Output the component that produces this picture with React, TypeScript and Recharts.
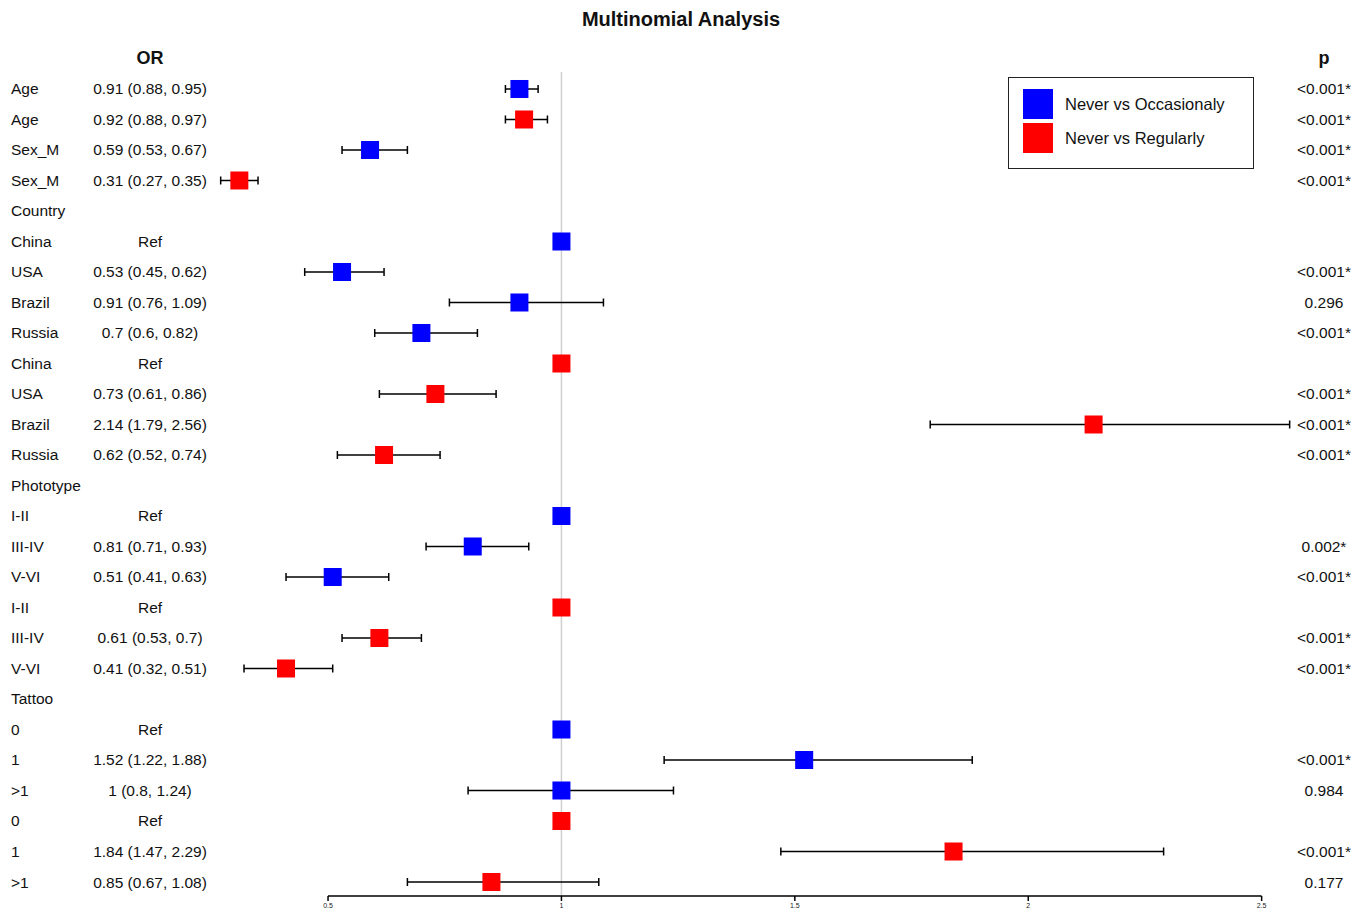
import React from 'react';
import {
  ComposedChart,
  Scatter,
  XAxis,
  YAxis,
  ReferenceLine,
  ErrorBar,
} from 'recharts';

const rowLabels = ['Age', 'Age', 'Sex_M', 'Sex_M', 'Country', 'China', 'USA', 'Brazil', 'Russia', 'China', 'USA', 'Brazil', 'Russia', 'Phototype', 'I-II', 'III-IV', 'V-VI', 'I-II', 'III-IV', 'V-VI', 'Tattoo', '0', '1', '>1', '0', '1', '>1'];
const orLabels = ['0.91 (0.88, 0.95)', '0.92 (0.88, 0.97)', '0.59 (0.53, 0.67)', '0.31 (0.27, 0.35)', '', 'Ref', '0.53 (0.45, 0.62)', '0.91 (0.76, 1.09)', '0.7 (0.6, 0.82)', 'Ref', '0.73 (0.61, 0.86)', '2.14 (1.79, 2.56)', '0.62 (0.52, 0.74)', '', 'Ref', '0.81 (0.71, 0.93)', '0.51 (0.41, 0.63)', 'Ref', '0.61 (0.53, 0.7)', '0.41 (0.32, 0.51)', '', 'Ref', '1.52 (1.22, 1.88)', '1 (0.8, 1.24)', 'Ref', '1.84 (1.47, 2.29)', '0.85 (0.67, 1.08)'];
const pLabels = ['<0.001*', '<0.001*', '<0.001*', '<0.001*', '', '', '<0.001*', '0.296', '<0.001*', '', '<0.001*', '<0.001*', '<0.001*', '', '', '0.002*', '<0.001*', '', '<0.001*', '<0.001*', '', '', '<0.001*', '0.984', '', '<0.001*', '0.177'];
const estimates: (number | null)[] = [0.91, 0.92, 0.59, 0.31, null, 1, 0.53, 0.91, 0.7, 1, 0.73, 2.14, 0.62, null, 1, 0.81, 0.51, 1, 0.61, 0.41, null, 1, 1.52, 1, 1, 1.84, 0.85];
const lowers: (number | null)[] = [0.88, 0.88, 0.53, 0.27, null, null, 0.45, 0.76, 0.6, null, 0.61, 1.79, 0.52, null, null, 0.71, 0.41, null, 0.53, 0.32, null, null, 1.22, 0.8, null, 1.47, 0.67];
const uppers: (number | null)[] = [0.95, 0.97, 0.67, 0.35, null, null, 0.62, 1.09, 0.82, null, 0.86, 2.56, 0.74, null, null, 0.93, 0.63, null, 0.7, 0.51, null, null, 1.88, 1.24, null, 2.29, 1.08];
const groups: (string | null)[] = ['occ', 'reg', 'occ', 'reg', null, 'occ', 'occ', 'occ', 'occ', 'reg', 'reg', 'reg', 'reg', null, 'occ', 'occ', 'occ', 'reg', 'reg', 'reg', null, 'occ', 'occ', 'occ', 'reg', 'reg', 'reg'];
const xTicks = [0.5, 1, 1.5, 2, 2.5];
const seriesNames = { occ: 'Never vs Occasionaly', reg: 'Never vs Regularly' };
const seriesColors: Record<string, string> = { occ: '#0000FF', reg: '#FF0000' };

const FONT = '"Liberation Sans", Arial, sans-serif';
const Y_DOMAIN: [number, number] = [-0.557, 26.459];

const labelData = rowLabels.map((label, i) => ({ x: 1, y: i, label, or: orLabels[i], p: pLabels[i] }));

const ciData = (g: string) =>
  estimates
    .map((est, i) => ({ est, i }))
    .filter(({ est, i }) => est != null && groups[i] === g && lowers[i] != null)
    .map(({ est, i }) => ({ x: est as number, y: i, err: [(est as number) - (lowers[i] as number), (uppers[i] as number) - (est as number)] }));

const refData = estimates
  .map((est, i) => ({ est, i }))
  .filter(({ est, i }) => est != null && lowers[i] == null)
  .map(({ est, i }) => ({ x: est as number, y: i, g: groups[i] as string }));

const occData = ciData('occ');
const regData = ciData('reg');

const SQ = 18;

const squareShape = (color?: string) => (props: any) => {
  const { cx, cy, payload } = props;
  const fill = color || seriesColors[payload.g];
  return <rect x={cx - SQ / 2} y={cy - SQ / 2} width={SQ} height={SQ} fill={fill} />;
};

const LabelShape = (props: any) => {
  const { cy, payload } = props;
  return (
    <g fontFamily={FONT} fontSize={15.5} fill="#111">
      <text x={11} y={cy} dominantBaseline="central" textAnchor="start">{payload.label}</text>
      {payload.or ? <text x={150} y={cy} dominantBaseline="central" textAnchor="middle">{payload.or}</text> : null}
      {payload.p ? <text x={1324} y={cy} dominantBaseline="central" textAnchor="middle">{payload.p}</text> : null}
    </g>
  );
};

export default function App() {
  return (
    <div style={{ position: 'absolute', left: 0, top: 0, width: 1367, height: 919, background: '#fff', fontFamily: FONT }}>
      <div style={{ position: 'absolute', left: 0, top: 8, width: 1362, textAlign: 'center', fontWeight: 'bold', fontSize: 20, color: '#111' }}>
        Multinomial Analysis
      </div>
      <div style={{ position: 'absolute', left: 110, top: 48, width: 80, textAlign: 'center', fontWeight: 'bold', fontSize: 18, color: '#111' }}>OR</div>
      <div style={{ position: 'absolute', left: 1284, top: 48, width: 80, textAlign: 'center', fontWeight: 'bold', fontSize: 18, color: '#111' }}>p</div>
      <ComposedChart width={1367} height={919} margin={{ top: 72, right: 12, bottom: 0, left: 188 }}>
        <XAxis
          type="number"
          dataKey="x"
          domain={[0.2, 2.7]}
          ticks={xTicks}
          axisLine={false}
          tickLine={{ stroke: '#000', strokeWidth: 1.5 }}
          tickSize={5}
          height={23}
          tick={{ fontSize: 7, fill: '#222', fontFamily: FONT }}
          interval={0}
        />
        <YAxis type="number" dataKey="y" domain={Y_DOMAIN} reversed hide />
        <ReferenceLine x={1} stroke="#d0d0d0" strokeWidth={1.5} />
        <ReferenceLine
          segment={[{ x: 0.5, y: Y_DOMAIN[1] }, { x: 2.5, y: Y_DOMAIN[1] }]}
          stroke="#000"
          strokeWidth={1.5}
          ifOverflow="visible"
        />
        <Scatter data={labelData} shape={LabelShape} isAnimationActive={false} />
        <Scatter name={seriesNames.occ} data={occData} shape={squareShape(seriesColors.occ)} isAnimationActive={false}>
          <ErrorBar dataKey="err" direction="x" width={4} stroke="#000" strokeWidth={1.5} />
        </Scatter>
        <Scatter name={seriesNames.reg} data={regData} shape={squareShape(seriesColors.reg)} isAnimationActive={false}>
          <ErrorBar dataKey="err" direction="x" width={4} stroke="#000" strokeWidth={1.5} />
        </Scatter>
        <Scatter data={refData} shape={squareShape()} isAnimationActive={false} />
      </ComposedChart>
      <div
        style={{
          position: 'absolute',
          left: 1008,
          top: 77,
          width: 246,
          height: 92,
          border: '1.5px solid #222',
          boxSizing: 'border-box',
          background: '#fff',
        }}
      >
        {(['occ', 'reg'] as const).map((g, k) => (
          <div key={g} style={{ position: 'absolute', left: 14, top: 11 + k * 34, height: 30, display: 'flex', alignItems: 'center' }}>
            <div style={{ width: 30, height: 30, background: seriesColors[g] }} />
            <span style={{ marginLeft: 12, fontSize: 16.5, color: '#111', whiteSpace: 'nowrap' }}>{seriesNames[g]}</span>
          </div>
        ))}
      </div>
    </div>
  );
}
